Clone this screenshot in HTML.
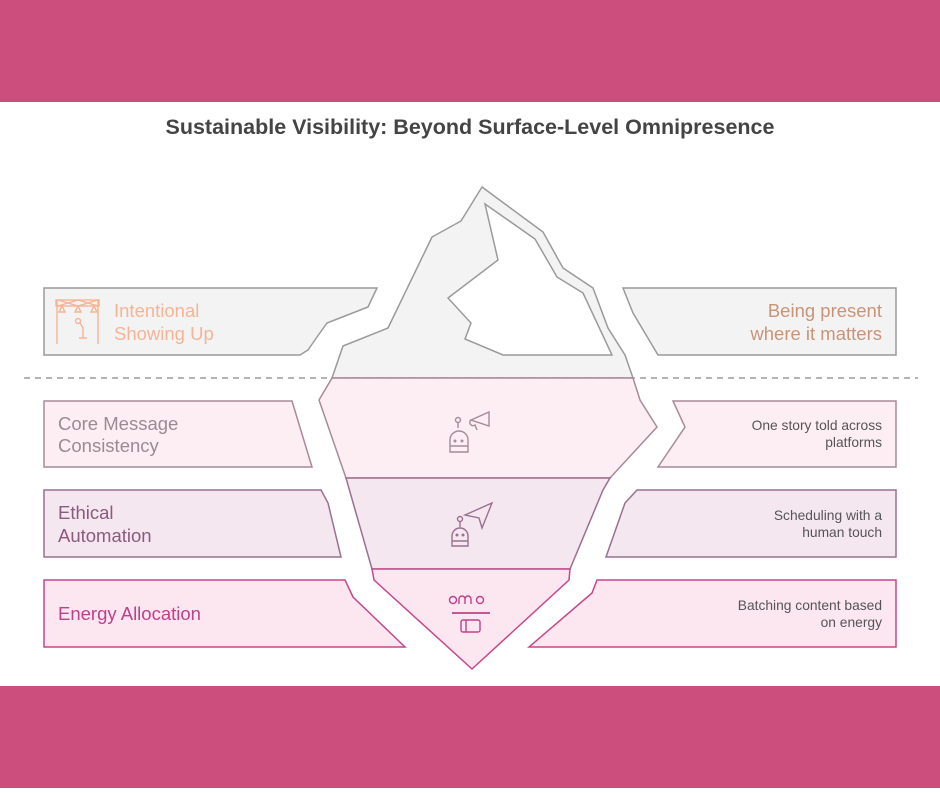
<!DOCTYPE html>
<html><head><meta charset="utf-8"><style>
body{margin:0;width:940px;height:788px;overflow:hidden;background:#fff;font-family:"Liberation Sans",Arial,sans-serif}
</style></head><body>
<svg width="940" height="788" viewBox="0 0 940 788" xmlns="http://www.w3.org/2000/svg" font-family="Liberation Sans, Arial, sans-serif">
<rect x="0" y="0" width="940" height="102" fill="#cc4e7c"/>
<rect x="0" y="686" width="940" height="102" fill="#cc4e7c"/>
<text x="470" y="134" text-anchor="middle" font-size="21.5" font-weight="bold" fill="#444">Sustainable Visibility: Beyond Surface-Level Omnipresence</text>

<!-- row1 -->
<path d="M44,288 L377,288 L368,307 L327,323 L317,337 L308,350 L300,355 L44,355 Z" fill="#f3f3f3" stroke="#9a9a9a" stroke-width="1.5"/>
<path d="M623,288 L896,288 L896,355 L658,355 L633,313 Z" fill="#f3f3f3" stroke="#9a9a9a" stroke-width="1.5"/>
<!-- iceberg top -->
<path d="M482,187 L461,221 L432,237 L388,328 L343,346 L332,378 L633,378 L625,355 L608,328 L593,288 L563,268 L543,232 Z" fill="#f3f3f3" stroke="#9a9a9a" stroke-width="1.5"/>
<path d="M485,204 L498,260 L448,298 L471,323 L465,339 L503,355 L612,355 L583,293 L557,277 L535,239 Z" fill="#fff" stroke="#9a9a9a" stroke-width="1.5"/>
<line x1="24" y1="378" x2="918" y2="378" stroke="#888" stroke-width="1.3" stroke-dasharray="6,5"/>
<!-- underwater -->
<path d="M332,378 L633,378 L640,400 L657,427 L610,478 L346,478 L319,400 Z" fill="#fdeef3" stroke="#a88a9a" stroke-width="1.5"/>
<path d="M346,478 L610,478 L603,490 L570,569 L372,569 Z" fill="#f5e7f0" stroke="#9a7090" stroke-width="1.5"/>
<path d="M372,569 L570,569 L569,580 L472,669 L374,580 Z" fill="#fce6f0" stroke="#c8478b" stroke-width="1.5"/>
<!-- row2 -->
<path d="M44,401 L292,401 L312,467 L44,467 Z" fill="#fdeef3" stroke="#a88a9a" stroke-width="1.5"/>
<path d="M673,401 L896,401 L896,467 L658,467 L685,427 Z" fill="#fdeef3" stroke="#a88a9a" stroke-width="1.5"/>
<!-- row3 -->
<path d="M44,490 L321,490 L328,503 L341,557 L44,557 Z" fill="#f5e7f0" stroke="#9a7090" stroke-width="1.5"/>
<path d="M637,490 L896,490 L896,557 L606,557 L625,503 Z" fill="#f5e7f0" stroke="#9a7090" stroke-width="1.5"/>
<!-- row4 -->
<path d="M44,580 L345,580 L353,597 L405,647 L44,647 Z" fill="#fce6f0" stroke="#c8478b" stroke-width="1.5"/>
<path d="M597,580 L896,580 L896,647 L529,647 L592,593 Z" fill="#fce6f0" stroke="#c8478b" stroke-width="1.5"/>

<!-- texts -->
<text font-size="18.5" fill="#f7b394"><tspan x="114" y="317">Intentional</tspan><tspan x="114" y="340">Showing Up</tspan></text>
<text font-size="18.5" fill="#c89478" text-anchor="end"><tspan x="882" y="317">Being present</tspan><tspan x="882" y="340">where it matters</tspan></text>
<text font-size="18.5" fill="#9a8a94"><tspan x="58" y="430">Core Message</tspan><tspan x="58" y="452">Consistency</tspan></text>
<text font-size="13.8" fill="#555" text-anchor="end"><tspan x="882" y="430">One story told across</tspan><tspan x="882" y="447">platforms</tspan></text>
<text font-size="18.5" fill="#8b5a7f"><tspan x="58" y="519">Ethical</tspan><tspan x="58" y="542">Automation</tspan></text>
<text font-size="13.8" fill="#555" text-anchor="end"><tspan x="882" y="520">Scheduling with a</tspan><tspan x="882" y="537">human touch</tspan></text>
<text x="58" y="620" font-size="18.5" fill="#c0408a">Energy Allocation</text>
<text font-size="13.8" fill="#555" text-anchor="end"><tspan x="882" y="610">Batching content based</tspan><tspan x="882" y="627">on energy</tspan></text>

<!-- icons -->
<g stroke="#f7b394" fill="none" stroke-width="1.4">
<line x1="57" y1="300" x2="57" y2="344"/><line x1="98" y1="300" x2="98" y2="344"/>
<rect x="56" y="300" width="43" height="6"/>
<path d="M58,306 L78,300 L98,306 M58,300 L78,306 L98,300"/>
<path d="M62,306 l-3,6 h6z M78,306 l-3,6 h6z M94,306 l-3,6 h6z"/>
<circle cx="78" cy="321" r="2.5"/><path d="M80,323 l3,5 v10 M79,338 h8"/>
</g>
<g stroke="#a88a9a" fill="none" stroke-width="1.4">
<circle cx="458" cy="420" r="2.5"/><line x1="458" y1="422" x2="458" y2="428"/>
<path d="M450,452 v-12 a9,9 0 0 1 18,0 v12 z M450,446 h18"/>
<circle cx="455" cy="441" r="0.8"/><circle cx="462" cy="441" r="0.8"/>
<path d="M471,420 l18,-8 v14 z M471,420 a3,3 0 0 0 4,5 l2,5"/>
</g>
<g stroke="#9a7090" fill="none" stroke-width="1.4">
<circle cx="460" cy="519" r="2.5"/><line x1="460" y1="521" x2="460" y2="527"/>
<path d="M452,546 v-10 a8,8 0 0 1 16,0 v10 z M452,541 h16"/>
<circle cx="457" cy="535" r="0.8"/><circle cx="463" cy="535" r="0.8"/>
<path d="M465,515 l27,-12 l-10,25 l-3,-10 z"/>
</g>
<g stroke="#c0408a" fill="none" stroke-width="1.4">
<circle cx="453" cy="600" r="3.5"/>
<path d="M459,604 v-5 a3,3 0 0 1 6,0 v5 M465,604 v-5 a3,3 0 0 1 6,0 v5"/>
<circle cx="480" cy="600" r="3.5"/>
<line x1="452" y1="613" x2="490" y2="613" stroke-width="1.8"/>
<rect x="461" y="620" width="19" height="12" rx="2"/><line x1="466" y1="620" x2="466" y2="632"/>
</g>
</svg>
</body></html>
